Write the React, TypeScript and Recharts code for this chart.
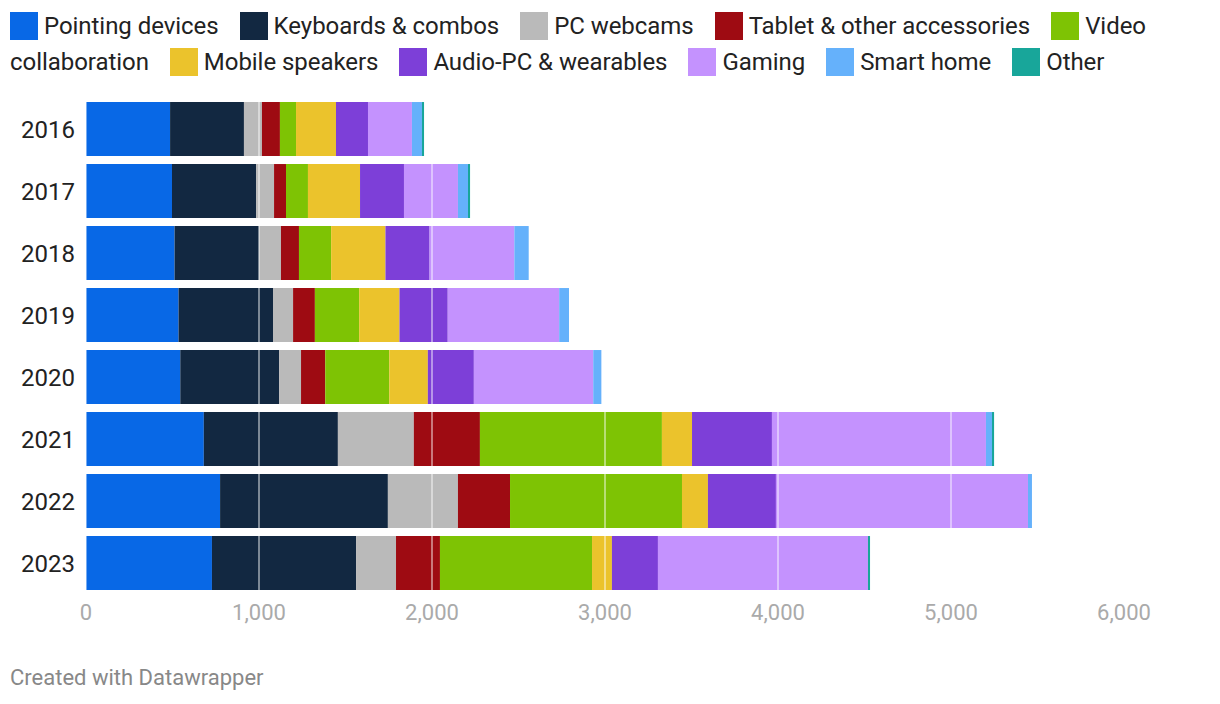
import { Bar, BarChart, ReferenceLine, XAxis, YAxis } from 'recharts';

const years = ['2016', '2017', '2018', '2019', '2020', '2021', '2022', '2023'];

const pointing = [486, 497, 512, 535, 545, 681, 775, 728];
const keyboards = [427, 486, 488, 546, 571, 775, 970, 833];
const webcams = [104, 104, 127, 116, 127, 439, 405, 231];
const tablet = [104, 69, 104, 126, 140, 382, 301, 254];
const video = [93, 127, 186, 256, 370, 1052, 994, 879];
const speakers = [231, 301, 314, 233, 223, 174, 150, 115];
const audio = [185, 254, 255, 279, 266, 462, 393, 266];
const gaming = [254, 312, 490, 644, 690, 1237, 1457, 1214];
const smartHome = [58, 58, 83, 57, 47, 35, 23, 0];
const other = [12, 12, 0, 0, 0, 12, 0, 12];

const xTicks = [0, 1000, 2000, 3000, 4000, 5000, 6000];
const gridLines = [0, 1000, 2000, 3000, 4000, 5000];

const series = [
  { key: 'pointing', label: 'Pointing devices', color: '#0868e6', values: pointing },
  { key: 'keyboards', label: 'Keyboards & combos', color: '#122841', values: keyboards },
  { key: 'webcams', label: 'PC webcams', color: '#bababa', values: webcams },
  { key: 'tablet', label: 'Tablet & other accessories', color: '#9e0b12', values: tablet },
  { key: 'video', label: 'Video collaboration', color: '#7ec304', values: video },
  { key: 'speakers', label: 'Mobile speakers', color: '#ebc32c', values: speakers },
  { key: 'audio', label: 'Audio-PC & wearables', color: '#7d3fd8', values: audio },
  { key: 'gaming', label: 'Gaming', color: '#c492fe', values: gaming },
  { key: 'smartHome', label: 'Smart home', color: '#65b1fb', values: smartHome },
  { key: 'other', label: 'Other', color: '#18a69a', values: other },
];

const data = years.map((year, i) => {
  const row: Record<string, string | number> = { year };
  series.forEach((s) => {
    row[s.key] = s.values[i];
  });
  return row;
});

const fmt = (v: number) => v.toLocaleString('en-US');

function Legend() {
  return (
    <div
      style={{
        position: 'absolute',
        left: 10,
        top: 8,
        width: 1200,
        fontSize: 24,
        lineHeight: '36px',
        letterSpacing: -0.05,
        color: '#222',
      }}
    >
      {series.map((s) => (
        <span key={s.key} style={{ marginRight: 21 }}>
          <span
            style={{
              display: 'inline-block',
              width: 28,
              height: 28,
              background: s.color,
              verticalAlign: -6,
              marginRight: 6,
            }}
          />
          {s.label}
        </span>
      ))}
    </div>
  );
}

export default function App() {
  return (
    <div
      style={{
        position: 'absolute',
        left: 0,
        top: 0,
        width: 1220,
        height: 704,
        background: '#fff',
        fontFamily: 'Roboto, sans-serif',
      }}
    >
      <Legend />
      <div style={{ position: 'absolute', left: 0, top: 0 }}>
        <BarChart
          width={1220}
          height={704}
          data={data}
          layout="vertical"
          barCategoryGap="6.5%"
          margin={{ top: 98, right: 96, bottom: 80, left: 0 }}
        >
          <XAxis
            type="number"
            domain={[0, 6000]}
            ticks={xTicks}
            tickFormatter={fmt}
            axisLine={false}
            tickLine={false}
            tick={{ fill: '#aaa', fontSize: 22 }}
            tickMargin={4}
            height={30}
          />
          <YAxis
            type="category"
            dataKey="year"
            width={86}
            axisLine={false}
            tickLine={false}
            tickMargin={5}
            tick={{ fill: '#222', fontSize: 24 }}
          />
          {series.map((s) => (
            <Bar key={s.key} dataKey={s.key} stackId="a" fill={s.color} isAnimationActive={false} />
          ))}
          {gridLines.map((x) => (
            <ReferenceLine key={x} x={x} stroke="#fff" strokeOpacity={0.45} strokeWidth={2} />
          ))}
        </BarChart>
      </div>
      <div
        style={{
          position: 'absolute',
          left: 10,
          top: 665,
          fontSize: 22,
          color: '#888',
        }}
      >
        Created with Datawrapper
      </div>
    </div>
  );
}
